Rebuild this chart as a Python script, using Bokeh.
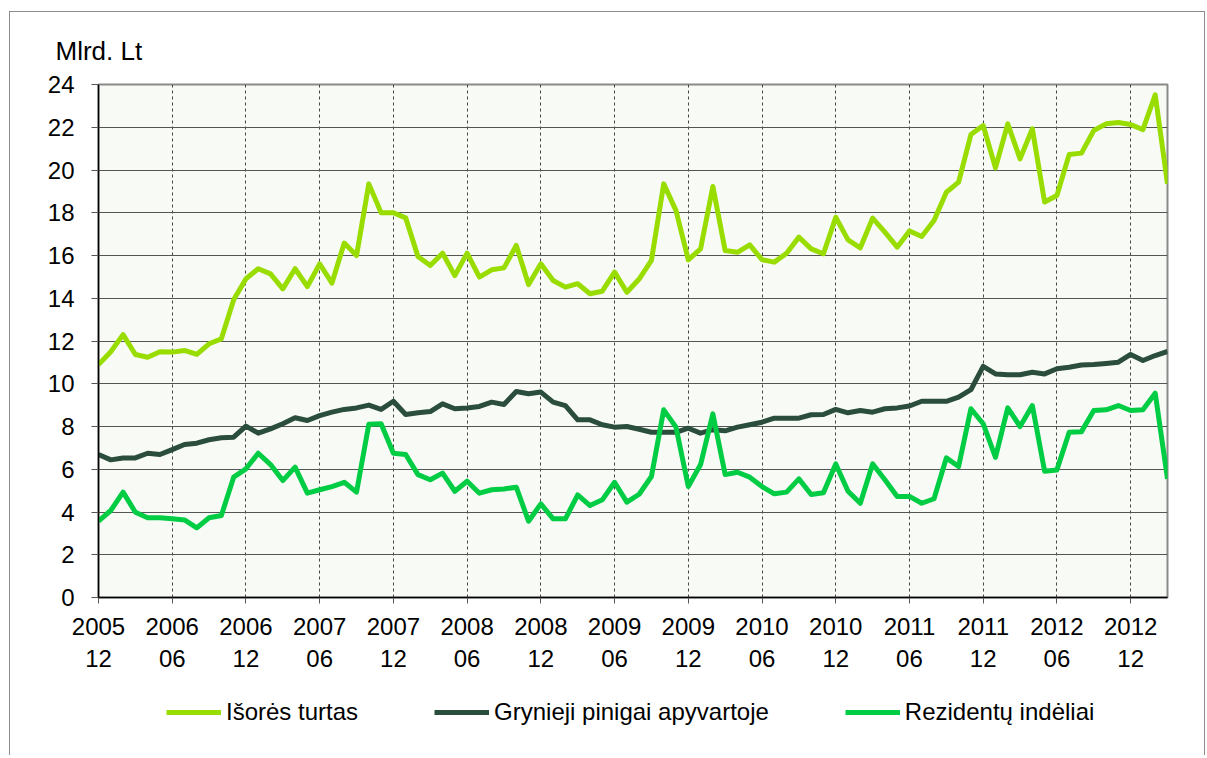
from bokeh.plotting import figure
from bokeh.models import Range1d, FixedTicker, Legend, LegendItem
from bokeh.embed import file_html
from bokeh.resources import INLINE

# ---- data (monthly, 2005-12 .. 2013-03), mlrd. Lt ----
isores_turtas = [10.9, 11.5, 12.3, 11.37, 11.24, 11.5, 11.48, 11.56, 11.37, 11.87, 12.1,
                 13.93, 14.91, 15.38, 15.14, 14.44, 15.38, 14.55, 15.61, 14.71, 16.58, 16.0,
                 19.35, 18.0, 18.0, 17.76, 15.95, 15.53, 16.11, 15.06, 16.11, 14.99, 15.33,
                 15.42, 16.47, 14.64, 15.61, 14.83, 14.52, 14.68, 14.21, 14.33, 15.22, 14.28,
                 14.9, 15.77, 19.35, 18.1, 15.8, 16.31, 19.23, 16.23, 16.15, 16.5, 15.8,
                 15.69, 16.11, 16.86, 16.31, 16.08, 17.79, 16.73, 16.36, 17.75, 17.09, 16.39,
                 17.15, 16.89, 17.64, 18.96, 19.43, 21.66, 22.08, 20.1, 22.16, 20.52, 21.93,
                 18.5, 18.81, 20.73, 20.79, 21.85, 22.16, 22.22, 22.13, 21.89, 23.52, 19.35]
grynieji_pinigai = [6.69, 6.44, 6.53, 6.53, 6.75, 6.69, 6.92, 7.16, 7.22, 7.38, 7.47,
                    7.5, 8.02, 7.69, 7.89, 8.13, 8.41, 8.28, 8.51, 8.67, 8.8, 8.87,
                    9.0, 8.8, 9.18, 8.56, 8.64, 8.7, 9.06, 8.83, 8.87, 8.94, 9.14,
                    9.03, 9.64, 9.53, 9.61, 9.14, 8.98, 8.31, 8.31, 8.08, 7.97, 8.0,
                    7.87, 7.73, 7.73, 7.73, 7.92, 7.69, 7.85, 7.8, 7.97, 8.08, 8.2,
                    8.39, 8.39, 8.39, 8.55, 8.56, 8.8, 8.64, 8.75, 8.67, 8.83, 8.87,
                    8.96, 9.18, 9.18, 9.18, 9.37, 9.72, 10.81, 10.46, 10.42, 10.42, 10.54,
                    10.46, 10.7, 10.77, 10.88, 10.9, 10.95, 11.01, 11.37, 11.09, 11.32, 11.51]
rezidentu_indeliai = [3.57, 4.07, 4.93, 3.99, 3.73, 3.73, 3.68, 3.63, 3.26, 3.73, 3.84,
                      5.63, 6.02, 6.75, 6.22, 5.47, 6.1, 4.88, 5.04, 5.19, 5.39, 4.93,
                      8.1, 8.13, 6.75, 6.69, 5.75, 5.51, 5.82, 4.97, 5.44, 4.88, 5.04,
                      5.08, 5.16, 3.57, 4.38, 3.68, 3.68, 4.8, 4.3, 4.57, 5.39, 4.46,
                      4.83, 5.66, 8.78, 7.97, 5.19, 6.22, 8.59, 5.75, 5.86, 5.63, 5.19,
                      4.85, 4.93, 5.55, 4.82, 4.9, 6.25, 4.97, 4.41, 6.25, 5.51, 4.73,
                      4.73, 4.41, 4.62, 6.53, 6.13, 8.83, 8.13, 6.56, 8.87, 8.0, 8.98,
                      5.91, 5.97, 7.73, 7.76, 8.75, 8.78, 8.98, 8.75, 8.78, 9.56, 5.55]
tick_labels = ["2005\n12", "2006\n06", "2006\n12", "2007\n06", "2007\n12", "2008\n06",
               "2008\n12", "2009\n06", "2009\n12", "2010\n06", "2010\n12", "2011\n06",
               "2011\n12", "2012\n06", "2012\n12"]
series_names = ["Išorės turtas", "Grynieji pinigai apyvartoje", "Rezidentų indėliai"]
y_ticks = list(range(0, 25, 2))
unit_label = "Mlrd. Lt"

series = [isores_turtas, grynieji_pinigai, rezidentu_indeliai]
months = list(range(len(isores_turtas)))
tick_pos = [6 * k for k in range(len(tick_labels))]

FONT = "Liberation Sans"
COLORS = ["#99DD00", "#2A4D3C", "#00CC44"]
BOX = "1px solid #8c8c8c"

p = figure(width=1196, height=680, output_backend="svg", toolbar_location=None,
           x_range=Range1d(0, len(months) - 1), y_range=Range1d(0, 24),
           min_border_left=88, min_border_right=39, min_border_top=72, min_border_bottom=95,
           title=unit_label,
           styles={"margin-top": "11px", "margin-left": "9px",
                   "border-top": BOX, "border-left": BOX, "border-right": BOX})

p.title.align = "left"
p.title.offset = -43
p.title.standoff = 38
p.title.text_font = FONT
p.title.text_font_size = "26px"
p.title.text_font_style = "normal"
p.title.text_color = "black"

p.background_fill_color = "#F8FAF5"
p.border_fill_color = "white"
p.outline_line_color = "#8a8a8a"
p.outline_line_width = 2

for vals, col in zip(series, COLORS):
    p.line(months, vals, line_color=col, line_width=5, line_join="round")

# axes
p.xaxis.ticker = FixedTicker(ticks=tick_pos)
p.xaxis.major_label_overrides = {t: l for t, l in zip(tick_pos, tick_labels)}
p.yaxis.ticker = FixedTicker(ticks=y_ticks)
for ax in (p.xaxis[0], p.yaxis[0]):
    ax.axis_line_color = "black"
    ax.axis_line_width = 1.5
    ax.major_tick_line_color = "#555555"
    ax.major_tick_in = 0
    ax.minor_tick_line_color = None
    ax.major_label_text_font = FONT
    ax.major_label_text_font_size = "24px"
    ax.major_label_text_color = "black"
p.xaxis.major_tick_out = 6
p.xaxis.major_label_standoff = 9
p.xaxis.major_label_text_line_height = 1.22
p.yaxis.major_tick_out = 7
p.yaxis.major_label_standoff = 17

# grids
p.xgrid.ticker = FixedTicker(ticks=tick_pos)
p.xgrid.grid_line_color = "#444444"
p.xgrid.grid_line_dash = "3 3"
p.xgrid.grid_line_width = 1
p.ygrid.ticker = FixedTicker(ticks=y_ticks)
p.ygrid.grid_line_color = "#555555"
p.ygrid.grid_line_width = 1

# legend strip below the chart: same series, drawn outside this strip's visible range
lf = figure(width=1196, height=64, output_backend="svg", toolbar_location=None,
            x_range=Range1d(0, 1), y_range=Range1d(-2, -1), min_border=0,
            title=None, styles={"margin-left": "9px", "border-left": BOX, "border-right": BOX})
lf.axis.visible = False
lf.grid.visible = False
lf.outline_line_color = None
lf.background_fill_color = "white"
lf.border_fill_color = "white"
leg_renderers = [lf.line(months, vals, line_color=c, line_width=5) for vals, c in zip(series, COLORS)]
legend = Legend(items=[LegendItem(label=n, renderers=[r]) for n, r in zip(series_names, leg_renderers)],
                orientation="horizontal", location=(156, 29),
                glyph_width=55, glyph_height=24, label_height=24, label_standoff=5,
                spacing=76, padding=0, margin=0,
                label_text_font=FONT, label_text_font_size="24px", label_text_color="black",
                border_line_alpha=0, background_fill_alpha=0)
lf.add_layout(legend)

open("out.html", "w").write(file_html([p, lf], INLINE))
